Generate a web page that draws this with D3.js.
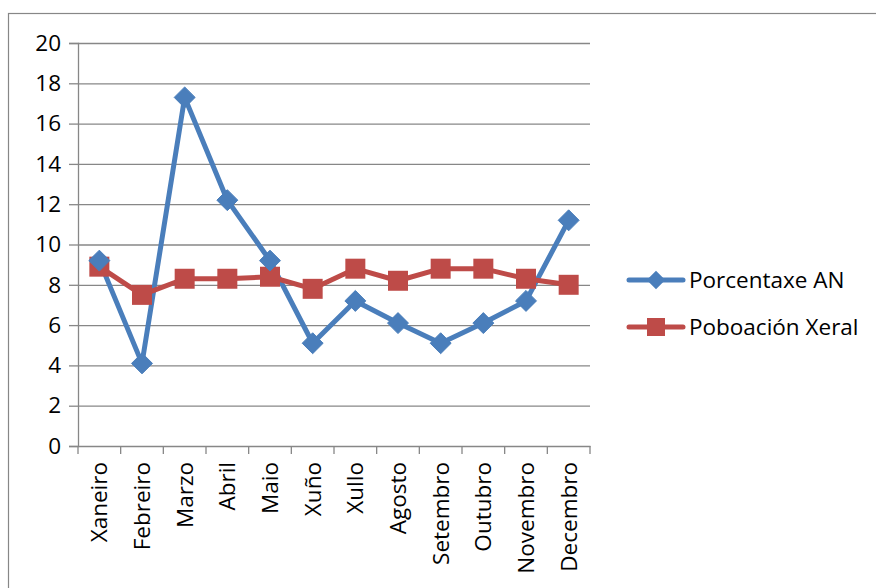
<!DOCTYPE html>
<html>
<head>
<meta charset="utf-8">
<script src="https://cdn.jsdelivr.net/npm/d3@7"></script>
<style>
  body { margin: 0; background: #fff; }
  text { font-family: "Open Sans", "Noto Sans", sans-serif; fill: #000; }
</style>
</head>
<body>
<div id="chart"></div>
<script>
// ---- data ----
const months = ['Xaneiro', 'Febreiro', 'Marzo', 'Abril', 'Maio', 'Xuño',
                'Xullo', 'Agosto', 'Setembro', 'Outubro', 'Novembro', 'Decembro'];
const porcentaxeAN   = [9.2, 4.1, 17.3, 12.2, 9.2, 5.1, 7.2, 6.1, 5.1, 6.1, 7.2, 11.2];
const poboacionXeral = [8.9, 7.5, 8.3, 8.3, 8.4, 7.8, 8.8, 8.2, 8.8, 8.8, 8.3, 8.0];
const yTicks = [0, 2, 4, 6, 8, 10, 12, 14, 16, 18, 20];
const seriesNames = ['Porcentaxe AN', 'Poboación Xeral'];

(function () {
  const W = 876, H = 588;
  const plot = { left: 78, right: 590, top: 43, bottom: 446 };
  const blue = '#4a7ebb', red = '#be4b48', grid = '#878787';
  const fs = '22.5px';

  const svg = d3.select('#chart').append('svg')
    .attr('width', W).attr('height', H);

  // outer chart frame
  svg.append('rect')
    .attr('x', 8.5).attr('y', 13.5).attr('width', 870).attr('height', 600)
    .attr('fill', 'none').attr('stroke', grid).attr('stroke-width', 1.2);

  const x = d3.scaleBand().domain(months).range([plot.left, plot.right]);
  const y = d3.scaleLinear().domain([0, 20]).range([plot.bottom, plot.top]);

  /* -------- y axis + gridlines -------- */
  const yAxis = svg.append('g')
    .attr('transform', `translate(${plot.left},0)`)
    .call(d3.axisLeft(y).tickValues(yTicks).tickSize(9).tickPadding(8));
  yAxis.select('.domain').attr('stroke', grid).attr('stroke-width', 1.3);
  yAxis.selectAll('.tick line').attr('stroke', grid).attr('stroke-width', 1.3);
  yAxis.selectAll('.tick text').style('font-size', fs);
  yAxis.selectAll('.tick').filter(d => d > 0).append('line')
    .attr('x1', 0).attr('x2', plot.right - plot.left)
    .attr('stroke', grid).attr('stroke-width', 1.3);

  /* -------- x axis -------- */
  const xAxis = svg.append('g')
    .attr('transform', `translate(0,${plot.bottom})`)
    .call(d3.axisBottom(x).tickSize(0).tickSizeOuter(0));
  xAxis.select('.domain').attr('stroke', grid).attr('stroke-width', 1.3);
  xAxis.selectAll('.tick text')
    .style('font-size', fs)
    .attr('text-anchor', 'end')
    .attr('transform', 'rotate(-90)')
    .attr('x', -16).attr('y', 0).attr('dy', '0.35em');
  // tick marks sit on band boundaries
  const bounds = months.map(m => x(m)).concat([plot.right]);
  xAxis.selectAll('.bound').data(bounds).enter().append('line')
    .attr('x1', d => d).attr('x2', d => d)
    .attr('y1', 0).attr('y2', 8)
    .attr('stroke', grid).attr('stroke-width', 1.3);

  const cx = (d, i) => x(months[i]) + x.bandwidth() / 2;
  const line = d3.line().x(cx).y(d => y(d));

  /* -------- series -------- */
  const diamond = d3.symbol().type(d3.symbolDiamond2).size(280);
  const square = d3.symbol().type(d3.symbolSquare).size(400);

  svg.append('path').datum(porcentaxeAN)
    .attr('d', line).attr('fill', 'none')
    .attr('stroke', blue).attr('stroke-width', 5).attr('stroke-linejoin', 'round');

  svg.append('path').datum(poboacionXeral)
    .attr('d', line).attr('fill', 'none')
    .attr('stroke', red).attr('stroke-width', 5).attr('stroke-linejoin', 'round');

  svg.selectAll('.sq').data(poboacionXeral).enter().append('path')
    .attr('d', square)
    .attr('transform', (d, i) => `translate(${cx(d, i)},${y(d)})`)
    .attr('fill', red);

  svg.selectAll('.dm').data(porcentaxeAN).enter().append('path')
    .attr('d', diamond)
    .attr('transform', (d, i) => `translate(${cx(d, i)},${y(d)})`)
    .attr('fill', blue).attr('stroke', blue).attr('stroke-width', 1)
    .attr('stroke-linejoin', 'round');

  /* -------- legend -------- */
  const legend = svg.append('g').attr('transform', 'translate(629,280)');
  const legendColors = [blue, red];
  const legendSymbols = [
    d3.symbol().type(d3.symbolDiamond2).size(220),
    d3.symbol().type(d3.symbolSquare).size(324)
  ];
  seriesNames.forEach((name, i) => {
    const g = legend.append('g').attr('transform', `translate(0,${i * 47})`);
    g.append('line').attr('x1', 0).attr('x2', 54)
      .attr('stroke', legendColors[i]).attr('stroke-width', 5).attr('stroke-linecap', 'round');
    g.append('path').attr('d', legendSymbols[i])
      .attr('transform', 'translate(27,0)')
      .attr('fill', legendColors[i]);
    g.append('text').attr('x', 60).attr('dy', '0.35em')
      .style('font-size', fs).text(name);
  });
})();
</script>
</body>
</html>
